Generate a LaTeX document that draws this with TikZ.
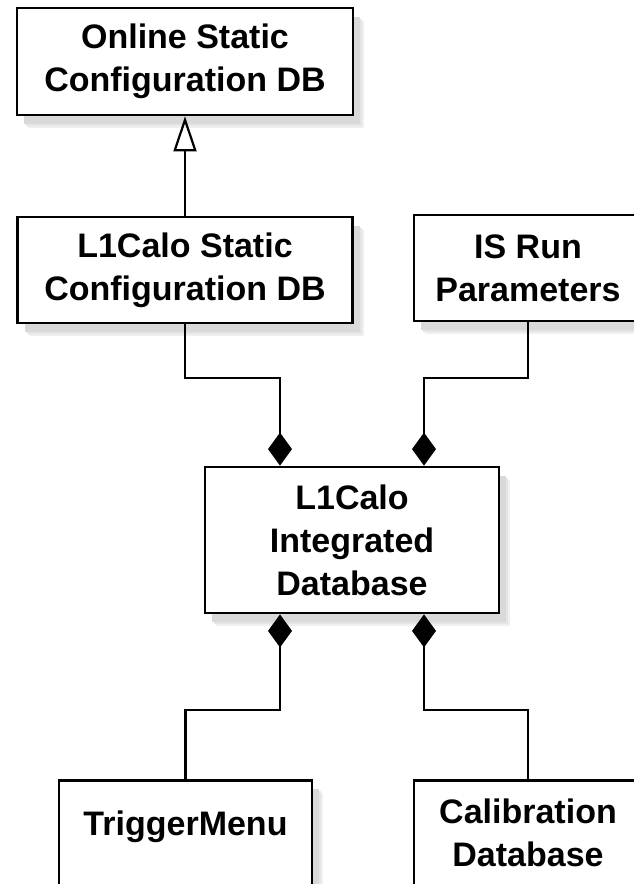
\documentclass[tikz,border=0pt]{standalone}
\usepackage{fontspec}
\newfontfamily\boxfont{Liberation Sans}
\newcommand\boxtext{\boxfont\bfseries\fontsize{34}{43}\selectfont}
\usetikzlibrary{arrows.meta,shadows}
\begin{document}
\begin{tikzpicture}[x=1pt,y=-1pt,
  boxshadow/.style={
    general shadow={shadow xshift=11pt,shadow yshift=-13pt,fill=black!6},
    general shadow={shadow xshift=9pt,shadow yshift=-11pt,fill=black!10},
    general shadow={shadow xshift=7pt,shadow yshift=-9pt,fill=black!15}},
  box/.style={draw=black,line width=2.8pt,fill=white,boxshadow,inner sep=0pt,align=center,font=\boxtext},
  txt/.style={inner sep=0pt,align=center,font=\boxtext},
  link/.style={draw=black,line width=2.2pt},
  comp/.style={link,{Diamond[length=33pt,width=24pt]}-},
  gen/.style={link,-{Triangle[open,length=35pt,width=23pt]}}
]
\useasboundingbox (0,0) rectangle (634,884);
\clip (0,0) rectangle (634,884);
\fill[white] (0,0) rectangle (634,884);

\node[box,minimum width=336pt,minimum height=107pt] (online) at (185,61.5) {Online Static\\Configuration DB};
\node[box,minimum width=335pt,minimum height=106pt] (l1static) at (185,270) {L1Calo Static\\Configuration DB};
\node[box,minimum width=228pt,minimum height=106pt] (isrun) at (528,268) {IS Run\\Parameters};
\node[box,minimum width=294pt,minimum height=146pt] (integ) at (352,540) {L1Calo\\Integrated\\Database};
\node[box,anchor=north,minimum width=253pt,minimum height=150pt] (trig) at (185.5,779) {};
\node[txt] (trigtext) at (185.5,827) {TriggerMenu};
\node[box,anchor=north,minimum width=228pt,minimum height=150pt] (calib) at (528,779) {};
\node[txt] (calibtext) at (528,833) {Calibration\\Database};

\coordinate (hA) at (0,378);
\coordinate (hB) at (0,710);

\draw[gen] (l1static.north) -- (l1static.north |- online.south);
\draw[comp] ([xshift=-72pt]integ.north) coordinate (d1) -- (d1 |- hA) -| (l1static.south);
\draw[comp] ([xshift=72pt]integ.north) coordinate (d2) -- (d2 |- hA) -| (isrun.south);
\draw[comp] ([xshift=-72pt]integ.south) coordinate (d3) -- (d3 |- hB) -| (trig.north);
\draw[comp] ([xshift=72pt]integ.south) coordinate (d4) -- (d4 |- hB) -| (calib.north);
\end{tikzpicture}
\end{document}
